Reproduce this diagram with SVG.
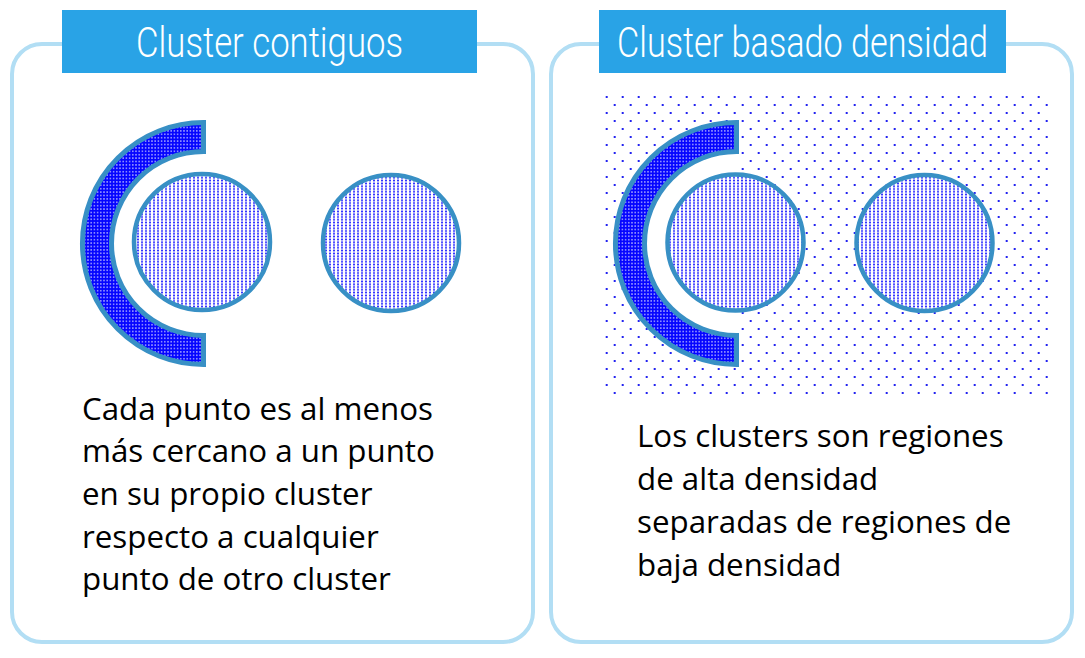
<svg xmlns="http://www.w3.org/2000/svg" width="1085" height="658" viewBox="0 0 1085 658">
  <style>
    .frame { fill: #ffffff; stroke: #b2def4; stroke-width: 4; }
    .banner { fill: #29a3e6; }
    .title { font-family: Roboto, "Liberation Sans", sans-serif; font-weight: 300; font-size: 42px; fill: #ffffff; text-anchor: middle; }
    .body { font-family: "Open Sans", "Liberation Sans", sans-serif; font-size: 31.3px; fill: #000000; }
    .ring { fill: url(#denseBlue); stroke: #3890c5; stroke-width: 5; stroke-linejoin: miter; }
    .blob { fill: url(#lightDots); stroke: #3890c5; stroke-width: 4.5; }
  </style>
  <defs>
    <!-- solid blue with small white holes, used for the C-shaped clusters -->
    <pattern id="denseBlue" width="3.2" height="3.4" patternUnits="userSpaceOnUse">
      <rect width="3.2" height="3.4" fill="#0505ff"/>
      <rect x="1" y="1.1" width="1.2" height="1.2" fill="#ffffff"/>
    </pattern>
    <!-- fine blue dots on white, used for the round clusters -->
    <pattern id="lightDots" width="4" height="2.8" patternUnits="userSpaceOnUse">
      <rect width="4" height="2.8" fill="#ffffff"/>
      <rect x="1" y="0.6" width="2" height="1.6" fill="#2525ff"/>
    </pattern>
    <!-- sparse staggered noise points -->
    <pattern id="noise" x="605.7" y="96" width="16" height="16" patternUnits="userSpaceOnUse">
      <rect x="0" y="0" width="2" height="2" fill="#2323f0"/>
      <rect x="8" y="8" width="2" height="2" fill="#2323f0"/>
    </pattern>
  </defs>

  <!-- left panel: contiguous clusters -->
  <g id="panel-contiguous">
    <rect class="frame" x="12" y="44" width="521" height="598" rx="30" ry="30"/>
    <rect class="banner" x="62" y="10" width="415" height="63"/>
    <text class="title" x="269.5" y="57" textLength="267" lengthAdjust="spacingAndGlyphs">Cluster contiguos</text>
  </g>
  <g id="contiguous-crescent">
    <path class="ring" d="M203.5,122.5 A121,121 0 1 0 203.5,364.5 L203.5,335.5 A92,92 0 1 1 203.5,151.5 Z"/>
  </g>
  <g id="contiguous-inner">
    <circle class="blob" cx="202" cy="242" r="68"/>
  </g>
  <g id="contiguous-outer">
    <circle class="blob" cx="391" cy="243" r="68"/>
  </g>
  <g id="contiguous-caption">
    <text class="body" x="82" y="420">Cada punto es al menos</text>
    <text class="body" x="82" y="462">más cercano a un punto</text>
    <text class="body" x="82" y="505">en su propio cluster</text>
    <text class="body" x="82" y="548">respecto a cualquier</text>
    <text class="body" x="82" y="590">punto de otro cluster</text>
  </g>

  <!-- right panel: density based clusters -->
  <g id="panel-density">
    <rect class="frame" x="551" y="44" width="521" height="598" rx="30" ry="30"/>
    <rect class="banner" x="599" y="10" width="407" height="63"/>
    <text class="title" x="802.5" y="57" textLength="371" lengthAdjust="spacingAndGlyphs">Cluster basado densidad</text>
  </g>
  <g id="density-noise">
    <rect x="603" y="94" width="447" height="302" fill="url(#noise)"/>
    <!-- clear gap inside the C shape -->
    <path d="M736.5,151.5 A92,92 0 0 0 736.5,335.5 Z" fill="#ffffff"/>
  </g>
  <g id="density-crescent">
    <path class="ring" d="M736.5,122.5 A121,121 0 1 0 736.5,364.5 L736.5,335.5 A92,92 0 1 1 736.5,151.5 Z"/>
  </g>
  <g id="density-inner">
    <circle class="blob" cx="735.5" cy="242.5" r="68"/>
  </g>
  <g id="density-outer">
    <circle class="blob" cx="924.5" cy="243" r="68"/>
  </g>
  <g id="density-caption">
    <text class="body" x="637" y="447">Los clusters son regiones</text>
    <text class="body" x="637" y="490">de alta densidad</text>
    <text class="body" x="637" y="533">separadas de regiones de</text>
    <text class="body" x="637" y="576">baja densidad</text>
  </g>

  <!-- no connectors in this figure -->
  <g id="connectors"/>
</svg>
